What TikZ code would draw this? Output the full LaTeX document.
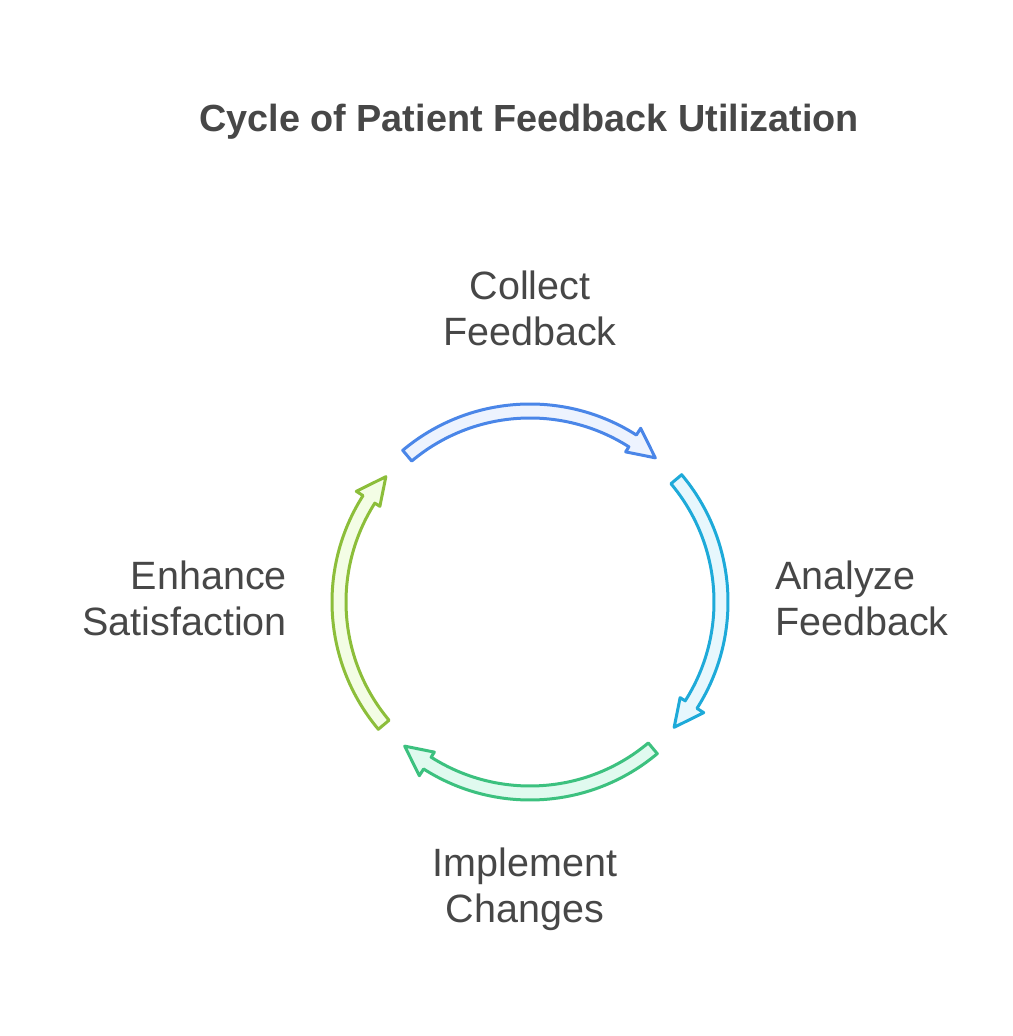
\documentclass[tikz,border=0pt]{standalone}
\usepackage{fontspec}
\setmainfont{Liberation Sans}
\definecolor{txt}{HTML}{474747}
\definecolor{bluS}{HTML}{4A86E8}
\definecolor{bluF}{HTML}{EDF3FE}
\definecolor{cyaS}{HTML}{1EAAD9}
\definecolor{cyaF}{HTML}{E7F7FD}
\definecolor{grnS}{HTML}{3CC17F}
\definecolor{grnF}{HTML}{E0FAEF}
\definecolor{limS}{HTML}{8CBE3A}
\definecolor{limF}{HTML}{F3FDE5}
\tikzset{
  arcarrow/.style={line width=3pt, line join=round},
  lbl/.style={inner sep=0pt, text=txt, font={\fontsize{39.5}{46}\selectfont}},
}
\newcommand{\cyclearrow}[3]{%
  \begin{scope}[shift={(530,434)}, rotate=#1]
    \draw[arcarrow, draw=#2, fill=#3]
      (130:198) arc[start angle=130, end angle=57.5, radius=198]
      -- (57.5:206) -- (49:191) -- (57.5:178) -- (57.5:184)
      arc[start angle=57.5, end angle=130, radius=184] -- cycle;
  \end{scope}}
\begin{document}
\begin{tikzpicture}[x=1pt,y=1pt]
\useasboundingbox (0,0) rectangle (1012,1036);
\fill[white] (0,0) rectangle (1012,1036);
\node[inner sep=0pt, anchor=base, text=txt, font={\fontsize{37.8}{44}\selectfont\bfseries}] (title) at (529,904) {Cycle of Patient Feedback Utilization};
\cyclearrow{0}{bluS}{bluF}
\cyclearrow{-90}{cyaS}{cyaF}
\cyclearrow{-180}{grnS}{grnF}
\cyclearrow{-270}{limS}{limF}
\node[lbl, anchor=base, align=center] (collect) at (530,690) {Collect\\Feedback};
\node[lbl, anchor=base west, align=left] (analyze) at (775,400) {Analyze\\Feedback};
\node[lbl, anchor=base, align=center] (implement) at (525,113) {Implement\\Changes};
\node[lbl, anchor=base east, align=right] (enhance) at (287,400) {Enhance\\Satisfaction};
\end{tikzpicture}
\end{document}
